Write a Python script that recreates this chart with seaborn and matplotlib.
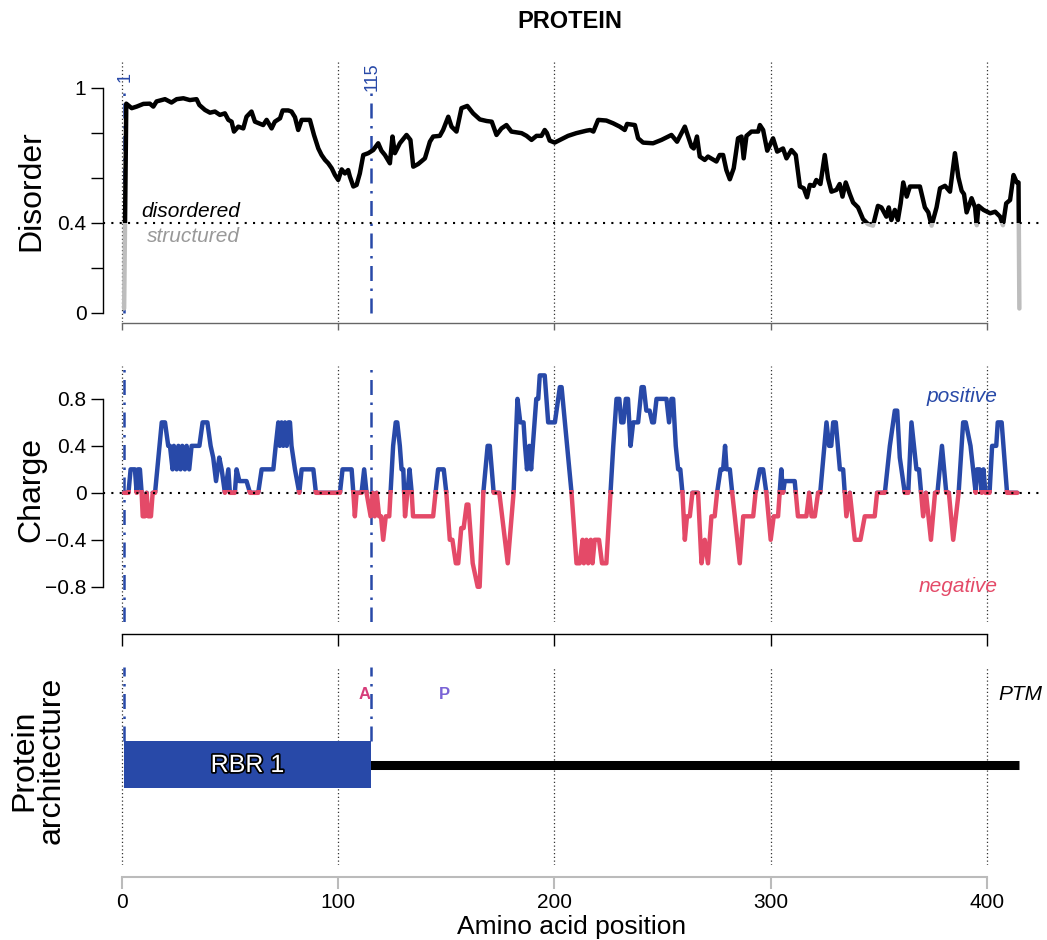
import matplotlib
matplotlib.use('Agg')
import matplotlib.pyplot as plt
import matplotlib.patheffects as pe
from matplotlib.patches import Rectangle
import seaborn as sns
import pandas as pd

# --- data --------------------------------------------------------------
disorder_pos = [1, 2, 4.5, 6.8, 9.9, 12.9, 14.5, 16, 19.9, 22.9, 25.3, 28.4, 31.4, 34.5, 35.8,
                38.4, 40.7, 43.0, 45.3, 47.6, 49.2, 50.7, 51.8, 53.8, 56.1, 57.6, 59.9, 61.5,
                65.3, 66.9, 69.2, 70.7, 73.1, 74.3, 76.9, 78.4, 80.0, 81.5, 83.1, 86.9, 88.8,
                90.8, 92.3, 93.9, 95.4, 97.0, 98.5, 100.0, 101.6, 103.1, 104.6, 105.4, 107.0,
                108.5, 110.0, 111.6, 113.9, 116.2, 118.5, 120.0, 121.6, 123.9, 125.1, 126.2,
                128.5, 131.6, 133.4, 134.7, 137.0, 140.1, 142.4, 143.9, 147.0, 148.5, 150.9,
                152.4, 154.7, 157.0, 159.7, 162.4, 165.5, 168.6, 171.0, 173.2, 175.5, 177.8,
                180.1, 184.8, 187.1, 189.4, 191.7, 194.0, 195.5, 196.5, 197.8, 200.1, 203.2,
                206.3, 210.1, 214.8, 216.6, 218.0, 220.2, 224.0, 227.1, 230.2, 232.5, 233.6,
                237.2, 238.7, 241.0, 245.6, 249.5, 254.1, 256.7, 260.3, 263.4, 264.4, 265.9,
                267.2, 269.5, 271.0, 274.9, 276.4, 278.0, 279.5, 281.1, 282.9, 284.9, 286.5,
                287.5, 288.8, 291.1, 294.2, 295.0, 296.5, 298.4, 301.1, 303.0, 305.7, 307.3,
                309.6, 311.6, 313.5, 315.3, 316.8, 318.1, 319.9, 321.1, 323.0, 325.0, 326.5,
                328.1, 330.4, 331.9, 333.2, 334.7, 336.6, 338.1, 340.4, 342.7, 345.0, 347.3,
                349.6, 351.2, 353.5, 354.6, 355.8, 357.4, 358.8, 360.1, 361.3, 362.9, 364.4,
                369.0, 371.3, 372.9, 374.4, 376.7, 378.3, 380.6, 382.9, 385.2, 386.8, 388.3,
                389.4, 390.6, 392.9, 394.5, 395.3, 396.1, 398.4, 401.5, 403.8, 406.1, 407.4,
                408.9, 410.7, 412.3, 413.8, 414.6, 415.0]
disorder_val = [0.02, 0.93, 0.91, 0.917, 0.929, 0.93, 0.917, 0.94, 0.95, 0.935, 0.95, 0.954, 0.946,
                0.95, 0.924, 0.902, 0.89, 0.895, 0.88, 0.887, 0.858, 0.85, 0.806, 0.828, 0.82,
                0.872, 0.895, 0.85, 0.835, 0.858, 0.82, 0.85, 0.865, 0.9, 0.9, 0.895, 0.87,
                0.813, 0.858, 0.858, 0.791, 0.731, 0.702, 0.68, 0.665, 0.643, 0.613, 0.591,
                0.638, 0.62, 0.635, 0.606, 0.562, 0.569, 0.62, 0.702, 0.71, 0.724, 0.754, 0.721,
                0.702, 0.665, 0.784, 0.71, 0.754, 0.791, 0.769, 0.65, 0.662, 0.687, 0.761,
                0.784, 0.787, 0.813, 0.872, 0.828, 0.806, 0.91, 0.92, 0.887, 0.86, 0.853, 0.85,
                0.791, 0.82, 0.835, 0.806, 0.799, 0.787, 0.769, 0.787, 0.787, 0.813, 0.8, 0.766,
                0.757, 0.772, 0.787, 0.799, 0.81, 0.813, 0.806, 0.858, 0.855, 0.843, 0.828,
                0.813, 0.84, 0.835, 0.776, 0.757, 0.754, 0.769, 0.791, 0.761, 0.828, 0.739,
                0.731, 0.784, 0.695, 0.68, 0.695, 0.673, 0.702, 0.702, 0.635, 0.594, 0.643,
                0.776, 0.784, 0.687, 0.787, 0.806, 0.806, 0.835, 0.813, 0.721, 0.776, 0.717,
                0.731, 0.687, 0.724, 0.702, 0.562, 0.554, 0.514, 0.569, 0.565, 0.591, 0.573,
                0.702, 0.598, 0.539, 0.547, 0.573, 0.517, 0.58, 0.528, 0.491, 0.469, 0.417,
                0.395, 0.388, 0.476, 0.469, 0.428, 0.469, 0.413, 0.458, 0.413, 0.487, 0.58,
                0.517, 0.562, 0.562, 0.469, 0.447, 0.388, 0.469, 0.554, 0.565, 0.539, 0.71,
                0.602, 0.543, 0.528, 0.447, 0.51, 0.469, 0.39, 0.476, 0.458, 0.443, 0.45, 0.428,
                0.39, 0.487, 0.502, 0.613, 0.58, 0.58, 0.02]

charge_pos = [1, 3, 4, 6, 6.8, 7.4, 8.3, 9.1, 9.6, 10.6, 11.4, 12.2, 13.4, 14.2, 15.3, 18.4, 19.9,
              21.4, 22.2, 23.4, 24.0, 25.3, 26.1, 27.1, 27.9, 29.1, 29.9, 31.1, 32.2, 33.8, 35.8,
              37.3, 39.5, 41.0, 42.2, 43.5, 45.0, 46.1, 47.6, 49.2, 49.9, 52.2, 53.0, 54.3, 57.6,
              59.2, 63.0, 64.6, 70.0, 71.1, 72.3, 73.0, 73.8, 74.6, 75.4, 76.2, 77.0, 77.7, 78.4,
              80.0, 82.0, 83.1, 88.5, 89.7, 100.8, 102.0, 106.2, 107.0, 107.7, 108.5, 110.8,
              112.0, 113.1, 115.0, 116.0, 116.9, 117.8, 118.9, 119.8, 120.8, 122.0, 123.6, 124.2,
              125.4, 126.6, 127.3, 128.5, 129.3, 130.1, 130.9, 132.0, 133.0, 134.0, 134.6, 143.9,
              145.0, 146.2, 148.8, 150.0, 151.6, 152.8, 154.4, 155.5, 156.9, 158.0, 159.4, 160.2,
              162.2, 164.5, 165.4, 167.1, 169.1, 170.1, 171.9, 174.5, 178.4, 181.1, 182.9, 184.2,
              185.7, 186.4, 187.3, 188.4, 189.2, 190.0, 191.6, 192.5, 193.2, 195.5, 197.1, 200.2,
              202.5, 203.3, 207.9, 210.2, 211.7, 213.0, 213.6, 214.8, 215.6, 216.8, 217.6, 218.6,
              220.6, 222.0, 224.0, 225.9, 227.2, 228.7, 230.0, 230.9, 231.9, 233.0, 234.0, 235.2,
              236.4, 238.7, 240.3, 241.3, 242.5, 244.0, 245.2, 246.0, 247.2, 251.8, 253.0, 254.1,
              254.9, 256.1, 257.2, 258.2, 259.2, 260.3, 261.3, 262.6, 263.8, 266.4, 268.0, 269.5,
              271.0, 272.6, 274.1, 275.2, 276.8, 278.0, 278.9, 279.6, 281.1, 282.2, 283.4, 285.7,
              287.3, 291.9, 293.0, 295.0, 296.5, 298.0, 300.0, 301.4, 303.4, 304.9, 305.7, 306.5,
              311.1, 312.6, 316.5, 317.8, 318.9, 320.4, 321.9, 322.9, 325.8, 327.0, 328.0, 328.9,
              330.1, 332.0, 333.5, 335.0, 336.6, 338.9, 341.5, 343.5, 348.1, 349.2, 352.8, 355.1,
              357.4, 358.5, 359.7, 362.0, 363.6, 365.1, 367.4, 368.6, 370.5, 371.8, 374.1, 376.0,
              377.1, 379.2, 381.2, 382.4, 384.4, 386.9, 389.0, 390.2, 392.4, 393.6, 394.8, 395.4,
              396.6, 397.6, 398.4, 399.3, 401.2, 402.4, 404.3, 405.0, 406.8, 409.3, 414.1]
charge_val = [0, 0, 0.2, 0.2, 0, 0.2, 0.2, 0, -0.2, -0.2, 0, -0.2, -0.2, 0, 0, 0.6, 0.6,
              0.4, 0.4, 0.2, 0.4, 0.2, 0.4, 0.2, 0.4, 0.2, 0.4, 0.2, 0.4, 0.4, 0.4,
              0.6, 0.6, 0.4, 0.3, 0.1, 0.3, 0.2, 0, 0.2, 0, 0, 0.2, 0.1, 0.1,
              0, 0, 0.2, 0.2, 0.4, 0.6, 0.4, 0.6, 0.4, 0.6, 0.4, 0.6, 0.6, 0.4,
              0.2, 0, 0.2, 0.2, 0, 0, 0.2, 0.2, 0, -0.2, 0, 0,
              0.2, 0, -0.2, 0, -0.2, 0, -0.2, -0.2, -0.4, -0.2, -0.2, 0,
              0.4, 0.6, 0.6, 0.4, 0.2, 0.2, -0.2, 0, 0.2, 0, -0.2, -0.2,
              0, 0.2, 0.2, 0, -0.4, -0.4, -0.6, -0.6, -0.3, -0.3, -0.1, -0.1,
              -0.6, -0.8, -0.8, 0, 0.4, 0.4, 0, 0, -0.6, 0, 0.8, 0.6,
              0.6, 0.4, 0.2, 0.4, 0.2, 0.4, 0.8, 0.8, 1.0, 1.0, 0.6, 0.6,
              0.9, 0.9, 0, -0.6, -0.6, -0.4, -0.6, -0.4, -0.6, -0.4, -0.6, -0.4,
              -0.4, -0.6, -0.6, 0, 0.4, 0.8, 0.8, 0.6, 0.6, 0.8, 0.8, 0.4,
              0.6, 0.6, 0.9, 0.9, 0.7, 0.7, 0.6, 0.6, 0.8, 0.8, 0.6, 0.8,
              0.8, 0.4, 0.2, 0.2, 0, -0.4, -0.2, -0.2, 0, 0, -0.6, -0.4,
              -0.6, -0.2, -0.2, 0, 0.2, 0.2, 0.4, 0.2, 0.2, 0, -0.2, -0.6,
              -0.2, -0.2, 0, 0.2, 0.2, 0, -0.4, -0.2, -0.2, 0.2, 0, 0.1,
              0.1, -0.2, -0.2, 0, -0.2, -0.2, 0, 0, 0.6, 0.4, 0.4, 0.6,
              0.6, 0.2, 0.2, -0.2, 0, -0.4, -0.4, -0.2, -0.2, 0, 0, 0.4,
              0.7, 0.7, 0.3, 0, 0, 0.6, 0.2, 0.2, -0.2, 0, -0.4, 0,
              0, 0.4, 0, 0, -0.4, 0, 0.6, 0.6, 0.4, 0.2, 0, 0.2,
              0.2, 0, 0.2, 0, 0, 0.4, 0.4, 0.6, 0.6, 0, 0]

protein_length = 415
domain_names = ['RBR 1']
domain_start = [1]
domain_end = [115]
ptm_labels = ['A', 'P']
ptm_pos = [112, 149]
ptm_colors = ['#D63C79', '#7A63D6']
marker_pos = [1, 115]
x_ticks = [0, 100, 200, 300, 400]
disorder_cut = 0.4

BLUE = '#2849A8'
RED = '#E44A68'

sns.set_theme(style='white')
plt.rcParams['font.family'] = ['Liberation Sans', 'DejaVu Sans']
plt.rcParams['axes.linewidth'] = 1.0
plt.rcParams['text.color'] = 'black'
plt.rcParams['axes.labelcolor'] = 'black'
plt.rcParams['xtick.color'] = 'black'
plt.rcParams['ytick.color'] = 'black'

W, H = 1047, 940
fig = plt.figure(figsize=(W / 100, H / 100), dpi=100)


def box(top, bottom, left=102.5, right=1041):
    return [left / W, 1 - bottom / H, (right - left) / W, (bottom - top) / H]


ax1 = fig.add_axes(box(60, 322))
ax2 = fig.add_axes(box(366, 622))
ax3 = fig.add_axes(box(667, 865))

for ax in (ax1, ax2, ax3):
    ax.set_xlim(-9, 425)
    for x in x_ticks:
        ax.axvline(x, color='#333333', ls=(0, (1, 2)), lw=0.9, zorder=0)
    sns.despine(ax=ax)
    ax.tick_params(axis='both', which='both', direction='out', length=8.6, width=1,
                   labelsize=15, pad=3, left=True, bottom=True, colors='black')

# --- disorder ------------------------------------------------------------
df_dis = pd.DataFrame({'pos': disorder_pos, 'disorder': disorder_val})
sns.lineplot(data=df_dis, x='pos', y='disorder', ax=ax1, color='#BDBDBD',
             linewidth=3.2, estimator=None, sort=False)
sns.lineplot(data=df_dis, x='pos', y='disorder', ax=ax1, color='black',
             linewidth=3.2, estimator=None, sort=False)
ax1.lines[-2].set_clip_path(Rectangle((-50, -5), 600, 5 + disorder_cut, transform=ax1.transData))
ax1.lines[-1].set_clip_path(Rectangle((-50, disorder_cut), 600, 5, transform=ax1.transData))
ax1.axhline(disorder_cut, color='black', ls=(0, (1, 3)), lw=1.5, zorder=5)
ax1.set_ylim(-0.04, 1.124)
ax1.set_yticks([0, 0.2, 0.4, 0.6, 0.8, 1])
ax1.set_yticklabels(['0', '', '0.4', '', '', '1'])
ax1.set_xticks(x_ticks)
ax1.set_xticklabels([])
ax1.spines['left'].set_bounds(0, 1)
ax1.spines['left'].set_color('black')
ax1.spines['bottom'].set_bounds(0, 400)
ax1.spines['bottom'].set_color('#666666')
ax1.spines['bottom'].set_position(('outward', 0.7))
ax1.tick_params(axis='x', colors='#666666', length=5)
ax1.text(54.5, 0.453, 'disordered', style='italic', fontsize=15, ha='right', va='center',
         color='black')
ax1.text(54.5, 0.338, 'structured', style='italic', fontsize=15, ha='right', va='center',
         color='#999999')
for p in marker_pos:
    ax1.plot([p, p], [0, 0.98], color=BLUE, lw=1.8, ls=(0, (6, 3, 1, 3)), zorder=1)
    ax1.text(p + 0.6, 1.05, str(p), rotation=90, color=BLUE, fontsize=13,
             ha='center', va='center')

# --- charge --------------------------------------------------------------
df_ch = pd.DataFrame({'pos': charge_pos, 'charge': charge_val})
sns.lineplot(data=df_ch, x='pos', y='charge', ax=ax2, color=BLUE,
             linewidth=3.2, estimator=None, sort=False)
sns.lineplot(data=df_ch, x='pos', y='charge', ax=ax2, color=RED,
             linewidth=3.2, estimator=None, sort=False)
ax2.lines[-2].set_clip_path(Rectangle((-50, 0), 600, 5, transform=ax2.transData))
ax2.lines[-1].set_clip_path(Rectangle((-50, -5), 600, 5.025, transform=ax2.transData))
ax2.axhline(0, color='black', ls=(0, (1, 3)), lw=1.5, zorder=5)
ax2.set_ylim(-1.1, 1.08)
ax2.set_yticks([-0.8, -0.4, 0, 0.4, 0.8])
ax2.set_yticklabels(['\u22120.8', '\u22120.4', '0', '0.4', '0.8'])
ax2.set_xticks(x_ticks)
ax2.set_xticklabels([])
ax2.spines['left'].set_bounds(-0.8, 0.8)
ax2.spines['left'].set_color('black')
ax2.spines['bottom'].set_bounds(0, 400)
ax2.spines['bottom'].set_color('black')
ax2.spines['bottom'].set_position(('outward', 8.6))
ax2.text(405, 0.82, 'positive', style='italic', fontsize=15, ha='right', va='center', color=BLUE)
ax2.text(405, -0.8, 'negative', style='italic', fontsize=15, ha='right', va='center', color=RED)
for p in marker_pos:
    ax2.axvline(p, color=BLUE, lw=1.8, ls=(0, (6, 3, 1, 3)), zorder=1)

# --- architecture --------------------------------------------------------
ax3.set_ylim(0, 1)
ax3.plot([1, protein_length], [0.505, 0.505], color='black', lw=6.5,
         solid_capstyle='butt', zorder=2)
for name, s, e in zip(domain_names, domain_start, domain_end):
    ax3.add_patch(Rectangle((s, 0.389), e - s, 0.237, color=BLUE, zorder=3, lw=0))
    ax3.text((s + e) / 2, 0.505, name, color='white', fontsize=18, ha='center', va='center',
             zorder=4, path_effects=[pe.withStroke(linewidth=2.5, foreground='black')])
for p in marker_pos:
    ax3.plot([p, p], [0.626, 1.0], color=BLUE, lw=1.8, ls=(0, (6, 3, 1, 3)), zorder=1)
for lab, p, c in zip(ptm_labels, ptm_pos, ptm_colors):
    ax3.text(p, 0.86, lab, color=c, fontsize=12, fontweight='bold', ha='center', va='center')
ax3.text(425.5, 0.86, 'PTM', style='italic', fontsize=15, ha='right', va='center',
         clip_on=False)
ax3.set_yticks([])
ax3.spines['left'].set_visible(False)
ax3.set_xticks(x_ticks)
ax3.set_xticklabels([str(t) for t in x_ticks])
ax3.spines['bottom'].set_bounds(0, 400)
ax3.spines['bottom'].set_color('#BBBBBB')
ax3.spines['bottom'].set_linewidth(1.5)
ax3.spines['bottom'].set_position(('outward', 8.6))
ax3.tick_params(axis='x', color='#BBBBBB', labelcolor='black', width=1.5)

for ax in (ax1, ax2, ax3):
    ax.set_xlabel('')
    ax.set_ylabel('')

fig.text(31 / W, 1 - 191 / H, 'Disorder', rotation=90, fontsize=23, ha='center', va='center')
fig.text(31 / W, 1 - 490 / H, 'Charge', rotation=90, fontsize=23, ha='center', va='center')
fig.text(38 / W, 1 - 760 / H, 'Protein\narchitecture', rotation=90, fontsize=23,
         ha='center', va='center', linespacing=0.85)
fig.text(570 / W, 1 - 22 / H, 'PROTEIN', fontsize=17, fontweight='bold', ha='center', va='center')
fig.text(572 / W, 1 - 927 / H, 'Amino acid position', fontsize=19, ha='center', va='center')

fig.savefig('out.png', dpi=100)
